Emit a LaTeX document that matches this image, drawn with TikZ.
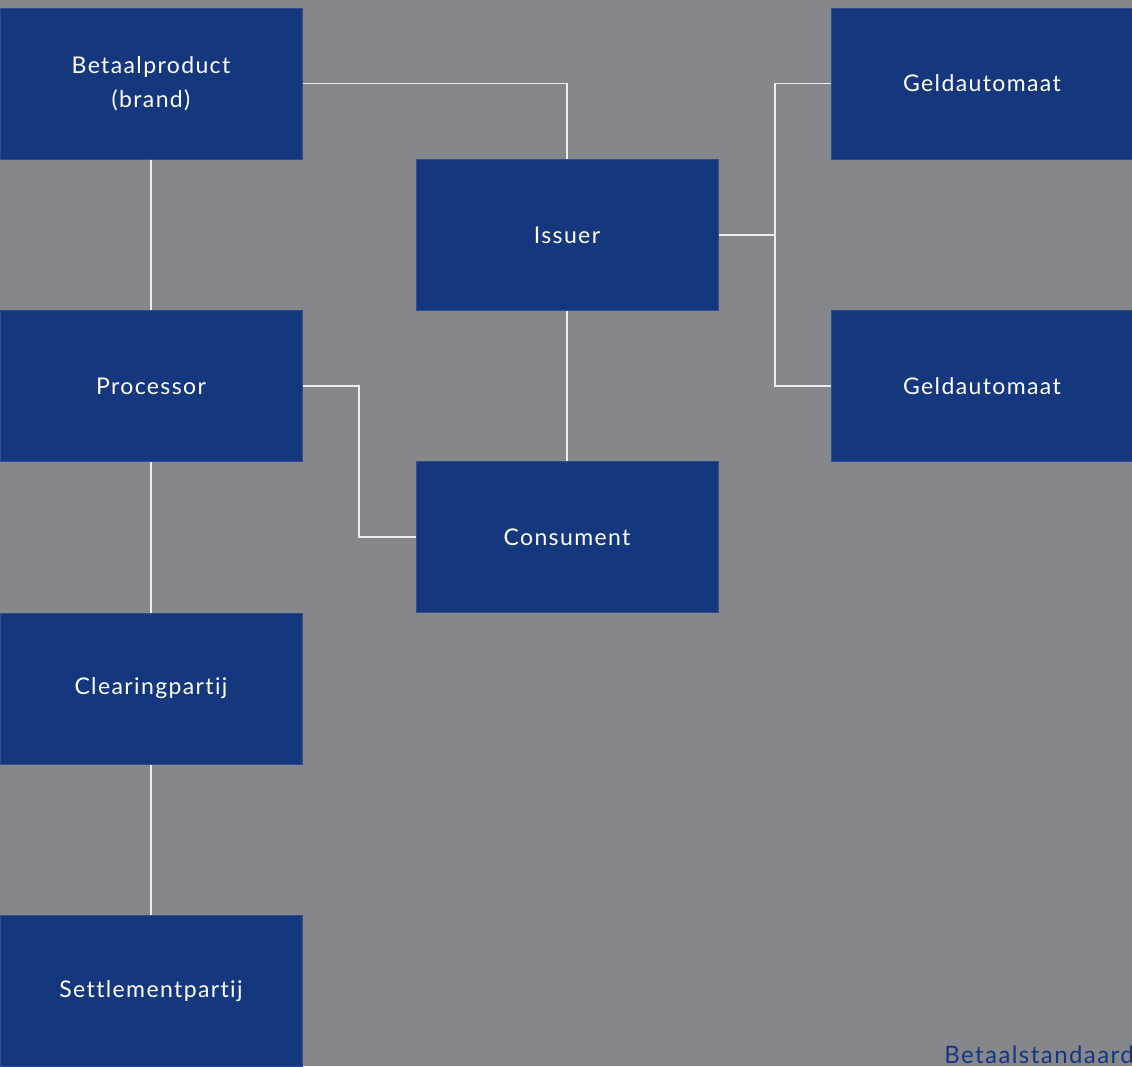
\documentclass[tikz,border=0pt]{standalone}
\usepackage{fontspec}
\setmainfont[LetterSpace=6,Ligatures=NoCommon]{Lato}
\definecolor{bg}{HTML}{86878B}
\definecolor{boxblue}{HTML}{14377D}
\definecolor{boxedge}{HTML}{2E4E8C}
\definecolor{wire}{HTML}{EDEDED}
\begin{document}
\begin{tikzpicture}[x=1pt,y=-1pt,
  blk/.style={fill=boxblue,draw=boxedge,line width=1pt,minimum width=302pt,minimum height=151pt,
    inner sep=0pt,text=white,font=\fontsize{23}{34}\selectfont,align=center},
  wire/.style={draw=wire,line width=1.4pt}]
\useasboundingbox (0,0) rectangle (1132,1066);
\clip (0,0) rectangle (1132,1066);
\fill[bg] (0,0) rectangle (1132,1066);
\node[blk] (brand) at (151,83.5) {Betaalproduct\\(brand)};
\node[blk] (proc) at (151,386) {Processor};
\node[blk] (clear) at (151,688.5) {Clearingpartij};
\node[blk] (settle) at (151,991) {Settlementpartij};
\node[blk] (issuer) at (567,235) {Issuer};
\node[blk] (cons) at (567,537) {Consument};
\node[blk] (geld1) at (982,83.5) {Geldautomaat};
\node[blk] (geld2) at (982,386) {Geldautomaat};
\coordinate (j1) at (775,235);
\draw[wire] (brand.south) -- (proc.north);
\draw[wire] (proc.south) -- (clear.north);
\draw[wire] (clear.south) -- (settle.north);
\draw[wire] (brand.east) -- (issuer.north |- brand.east) -- (issuer.north);
\draw[wire] (issuer.south) -- (cons.north);
\draw[wire] (proc.east) -- (359,386) |- (cons.west);
\draw[wire] (issuer.east) -- (j1);
\draw[wire] (geld1.west) -- (j1 |- geld1.west) -- (j1 |- geld2.west) -- (geld2.west);
\node[anchor=base east,inner sep=0pt,text=boxblue,font=\fontsize{24}{28}\selectfont] (title) at (1134,1063) {Betaalstandaard};
\end{tikzpicture}
\end{document}
